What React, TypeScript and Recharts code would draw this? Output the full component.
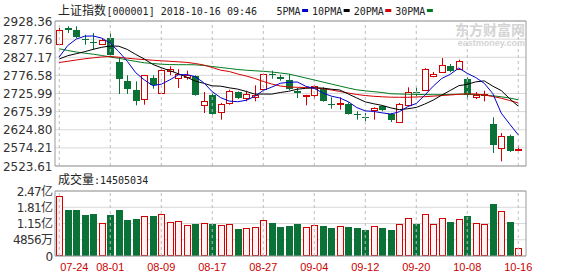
import React from 'react';
import { ComposedChart, Bar, Line, XAxis, YAxis, CartesianGrid, ReferenceLine } from 'recharts';

const dates = ['07-24','07-25','07-26','07-27','07-30','07-31','08-01','08-02','08-03','08-06','08-07','08-08','08-09','08-10','08-13','08-14','08-15','08-16','08-17','08-20','08-21','08-22','08-23','08-24','08-27','08-28','08-29','08-30','08-31','09-03','09-04','09-05','09-06','09-07','09-10','09-11','09-12','09-13','09-14','09-17','09-18','09-19','09-20','09-21','09-25','09-26','09-27','09-28','10-08','10-09','10-10','10-11','10-12','10-15','10-16'];

const opens = [2864.2,2908.8,2904.1,2878.1,2870,2865,2880.9,2813.9,2760,2735.8,2711.5,2769.2,2727.4,2789.6,2769.2,2772.9,2774,2693,2722.7,2673.5,2699.5,2730.2,2713.4,2715.4,2739.4,2780,2773,2764.5,2732.1,2719,2721,2739.4,2695.8,2697.5,2696.7,2667.5,2660,2679.1,2690.2,2668.8,2646.4,2694.7,2730.2,2734.9,2775,2785.2,2802,2795.2,2767.3,2717,2721,2640.9,2573.8,2606.4,2571.2];
const highs = [2908.8,2913.6,2913.6,2890.1,2894.9,2879,2894.9,2827,2776.8,2760,2778,2776.8,2795.2,2801.8,2794,2789.6,2776.8,2730.2,2727.4,2699.5,2736.6,2732,2733.8,2748.9,2781.5,2789.6,2778.5,2780.4,2741.3,2722.5,2750.6,2743.3,2715.4,2715.4,2701.4,2676.3,2671.6,2687.4,2693,2671.6,2699.5,2743.3,2743.3,2796.6,2786,2825.1,2808.3,2820.4,2771.2,2730.2,2733.8,2659.5,2615.7,2611,2581.4];
const lows = [2862.2,2894.9,2880.9,2862.2,2848.3,2862,2827,2724.6,2724.6,2693,2694.7,2739.4,2724.6,2776.8,2741.3,2764.5,2720,2671.5,2666.9,2652.9,2694.7,2710.6,2704.2,2704.2,2738.5,2767.3,2761.7,2735.8,2713.4,2693,2710.6,2703,2683.5,2680.8,2666.9,2652.9,2648.4,2652.9,2676.3,2646.4,2645,2693,2718.2,2734,2771.2,2783.2,2785.2,2792.4,2708.7,2710.6,2704.2,2560,2536.7,2562.7,2564.6];
const closes = [2904.1,2903.2,2882.9,2874.5,2868,2874.5,2832.6,2766.5,2739.4,2705.9,2776.8,2750.6,2790.7,2794.4,2780.4,2778.5,2722.7,2704.2,2668.8,2696.7,2732.1,2713.4,2724.6,2722.7,2780.4,2777.8,2767.3,2738.5,2726.5,2721,2747.8,2704.2,2693.9,2700.5,2668.8,2666,2658.5,2685.5,2680.8,2652.9,2697.5,2730.2,2729.3,2795.2,2780.4,2804.7,2788,2817.6,2721,2721,2724.6,2583,2606.4,2566.3,2572.1];

const ma5 = [2828,2860,2878,2886,2886.5,2880.6,2866.5,2843,2816,2784,2764,2748,2752,2764,2778,2779,2773,2756,2731,2714.2,2704.9,2703,2707.1,2717.9,2734.6,2743.8,2754.6,2757.3,2758.1,2746.2,2740.2,2727.6,2718.7,2713.5,2703,2686.7,2677.5,2675.9,2671.9,2668.7,2675,2689.4,2698.1,2721,2746.5,2768,2779.5,2797.2,2782.3,2770.5,2754.4,2726,2671.2,2640.3,2610.5];
const ma10 = [2822.3,2831.5,2837.1,2842.7,2849.4,2855,2858.6,2858,2849,2835,2822.4,2807.2,2798,2789.9,2781.2,2771.6,2760.6,2754.4,2747.3,2746.4,2741.9,2738.2,2731.6,2724.4,2724.4,2724.3,2728.8,2732.2,2738,2740.4,2742,2741.1,2738,2735.8,2724.6,2713.5,2702.6,2697.3,2692.7,2685.9,2680.9,2683.5,2687,2696.5,2707.6,2721.5,2734.5,2747.7,2751.7,2758.5,2761.2,2746.5,2734.2,2711.3,2690.5];
const ma20 = [2812.5,2815.9,2819.5,2822.9,2825.6,2827.9,2829.3,2827.3,2824.5,2822.3,2820.6,2818.9,2817.3,2815.9,2814.5,2812.8,2809.7,2805.5,2798.6,2791,2787.4,2780.4,2774.8,2767.9,2759.5,2752.5,2746.9,2744.1,2743.3,2742.7,2741.3,2739.4,2735.8,2731.6,2727.4,2723.2,2720.4,2718.2,2716.8,2715.7,2715.4,2715.4,2716.2,2717.1,2718.5,2720.4,2721.8,2723.8,2724.6,2724.6,2721.8,2717.6,2712.9,2706.4,2699.5];
const ma30 = [2850.8,2846,2841.8,2838.5,2835.7,2832.1,2827.9,2824.2,2819.8,2815.6,2811.7,2809.7,2807.8,2806.7,2806.4,2806.4,2806.1,2804.1,2801.4,2798.6,2795.8,2793,2791,2789.4,2788,2786,2783.2,2780.4,2774.8,2769.3,2763.7,2758.1,2752.5,2746.9,2741.3,2736.3,2733.5,2731,2728.8,2725.2,2724.6,2724,2723.5,2722.9,2722.6,2722.6,2723.2,2724,2724,2723.2,2721.8,2719.6,2716.8,2713.4,2708.4];

// volume in 亿
const volumes = [2.28,1.73,1.73,1.54,1.59,1.27,1.54,1.76,1.35,1.39,1.53,1.53,1.58,1.30,1.33,1.19,1.23,1.27,1.20,1.18,1.23,1.03,1.07,1.10,1.38,1.27,1.12,1.15,1.20,1.11,1.18,1.15,1.08,1.15,1.12,1.08,1.00,1.14,1.07,1.00,1.21,1.45,1.20,1.61,1.20,1.45,1.30,1.41,1.53,1.27,1.23,1.99,1.72,1.28,0.32];

const priceTicks = [2523.61, 2574.21, 2624.80, 2675.39, 2725.99, 2776.58, 2827.17, 2877.76, 2928.36];
const volTicks = [0, 0.6175, 1.235, 1.8525, 2.47];
const volTickLabels = ['0', '4856万', '1.15亿', '1.81亿', '2.47亿'];
const labelDates = ['07-24','08-01','08-09','08-17','08-27','09-04','09-12','09-20','10-08','10-16'];

const legendItems = [
  { name: '5PMA', color: '#0000cc' },
  { name: '10PMA', color: '#000000' },
  { name: '20PMA', color: '#d00000' },
  { name: '30PMA', color: '#007a1e' },
];

const RED = '#d20000';
const GREEN = '#0a7236';
const GRID = '#d8d8d8';
const BORDER = '#9a9a9a';
const DASH = '#bdbdbd';

const data = dates.map((date, i) => ({
  date,
  open: opens[i],
  high: highs[i],
  low: lows[i],
  close: closes[i],
  range: [lows[i], highs[i]],
  ma5: ma5[i],
  ma10: ma10[i],
  ma20: ma20[i],
  ma30: ma30[i],
  vol: volumes[i],
}));

const Candle = (props: any) => {
  const { x, y, width, height, payload } = props;
  if (!payload || x == null) return null;
  const top = Math.min(y, y + height);
  const h = Math.abs(height);
  const { open, close, high, low } = payload;
  const span = high - low || 1;
  const py = (v: number) => top + ((high - v) / span) * h;
  const cx = Math.floor(x + width / 2) + 0.5;
  const up = close >= open;
  const yHigh = py(high);
  const yLow = py(low);
  const bTop = py(Math.max(open, close));
  const bBot = py(Math.min(open, close));
  if (up) {
    const t = Math.round(bTop) + 0.5;
    let b = Math.round(bBot) + 0.5;
    if (b < t + 1) b = t + 1;
    return (
      <g>
        <line x1={cx} x2={cx} y1={yHigh} y2={t} stroke={RED} strokeWidth={1} />
        <line x1={cx} x2={cx} y1={b} y2={yLow} stroke={RED} strokeWidth={1} />
        <rect x={cx - 3} y={t} width={6} height={b - t} fill="#ffffff" stroke={RED} strokeWidth={1} />
      </g>
    );
  }
  const t = Math.round(bTop);
  const bh = Math.max(1, Math.round(bBot) - t);
  return (
    <g>
      <line x1={cx} x2={cx} y1={yHigh} y2={yLow} stroke={GREEN} strokeWidth={1} />
      <rect x={cx - 3.5} y={t} width={7} height={bh} fill={GREEN} />
    </g>
  );
};

const VolBar = (props: any) => {
  const { x, y, width, height, payload } = props;
  if (!payload || x == null) return null;
  const up = payload.close >= payload.open;
  const cx = Math.floor(x + width / 2) + 0.5;
  const yt = Math.round(Math.min(y, y + height));
  const yb = Math.round(Math.max(y, y + height));
  if (up) {
    return <rect x={cx - 3} y={yt + 0.5} width={6} height={Math.max(1, yb - yt - 1)} fill="#fff2f2" stroke={RED} strokeWidth={1} />;
  }
  return <rect x={cx - 3.5} y={yt} width={7} height={Math.max(1, yb - yt)} fill={GREEN} />;
};

const PriceTick = (props: any) => {
  const { x, y, payload } = props;
  return (
    <text x={x} y={y + 4.5} textAnchor="end" fontSize={12} fontFamily="DejaVu Sans" fill="#333">
      {Number(payload.value).toFixed(2)}
    </text>
  );
};

const VolTick = (props: any) => {
  const { x, y, index } = props;
  return (
    <text x={x} y={y + 4.5} textAnchor="end" fontSize={12} fontFamily="DejaVu Sans, Noto Sans CJK SC" fill="#333" letterSpacing={-0.6}>
      {volTickLabels[index]}
    </text>
  );
};

const DateTick = (props: any) => {
  const { x, y, payload, index } = props;
  const first = index === 0;
  return (
    <text x={first ? x + 1 : x} y={y + 14.5} textAnchor={first ? 'start' : 'middle'} fontSize={11} fontFamily="Liberation Sans" fill="#cc0000">
      {payload.value}
    </text>
  );
};

export default function App() {
  const monoW = 6.02;
  let lx = 276.5;
  const legendLayout = legendItems.map((it) => {
    const tx = lx;
    const dx = tx + it.name.length * monoW + 1.5;
    lx = dx + 10;
    return { ...it, tx, dx };
  });
  return (
    <div style={{ position: 'absolute', left: 0, top: 0, width: 578, height: 276, background: '#fff', overflow: 'hidden' }}>
      <div style={{ position: 'absolute', left: 0, top: 0 }}>
        <ComposedChart width={578} height={178} data={data} margin={{ top: 21, right: 0, bottom: 12, left: 0 }} barCategoryGap={0}>
          <CartesianGrid yAxisId="p" vertical={false} stroke={GRID} />
          <XAxis dataKey="date" hide padding={{ left: 0, right: 3.5 }} />
          <YAxis yAxisId="p" domain={[2523.61, 2928.36]} ticks={priceTicks} interval={0} width={55} allowDataOverflow
            axisLine={{ stroke: BORDER }} tickLine={false} tickSize={0} tickMargin={2.5} tick={<PriceTick />} />
          <YAxis yAxisId="r" orientation="right" width={52} axisLine={{ stroke: BORDER }} tick={false} tickLine={false} />
          {labelDates.map((d) => (
            <ReferenceLine key={d} yAxisId="p" x={d} stroke={DASH} strokeDasharray="3 3" />
          ))}
          <ReferenceLine yAxisId="p" y={priceTicks[priceTicks.length - 1]} stroke={BORDER} />
          <ReferenceLine yAxisId="p" y={priceTicks[0]} stroke={BORDER} />
          <Bar yAxisId="p" dataKey="range" shape={<Candle />} isAnimationActive={false} />
          <Line yAxisId="p" type="linear" dataKey="ma30" stroke="#007a1e" strokeWidth={1} dot={false} isAnimationActive={false} />
          <Line yAxisId="p" type="linear" dataKey="ma20" stroke="#d00000" strokeWidth={1} dot={false} isAnimationActive={false} />
          <Line yAxisId="p" type="linear" dataKey="ma10" stroke="#000000" strokeWidth={1} dot={false} isAnimationActive={false} />
          <Line yAxisId="p" type="linear" dataKey="ma5" stroke="#0000cc" strokeWidth={1} dot={false} isAnimationActive={false} />
        </ComposedChart>
      </div>
      <div style={{ position: 'absolute', left: 0, top: 180 }}>
        <ComposedChart width={578} height={96} data={data} margin={{ top: 11, right: 0, bottom: 0, left: 0 }} barCategoryGap={0}>
          <CartesianGrid yAxisId="v" vertical={false} stroke={GRID} />
          <XAxis dataKey="date" interval={5} padding={{ left: 0, right: 3.5 }} height={20}
            tickLine={false} tickSize={0} tickMargin={0} axisLine={{ stroke: BORDER }} tick={<DateTick />} />
          <YAxis yAxisId="v" domain={[0, 2.47]} ticks={volTicks} interval={0} width={55} allowDataOverflow
            axisLine={{ stroke: BORDER }} tickLine={false} tickSize={0} tickMargin={2.5} tick={<VolTick />} />
          <YAxis yAxisId="r" orientation="right" width={52} axisLine={{ stroke: BORDER }} tick={false} tickLine={false} />
          {labelDates.map((d) => (
            <ReferenceLine key={d} yAxisId="v" x={d} stroke={DASH} strokeDasharray="3 3" />
          ))}
          <ReferenceLine yAxisId="v" y={volTicks[volTicks.length - 1]} stroke={BORDER} />
          <Bar yAxisId="v" dataKey="vol" shape={<VolBar />} isAnimationActive={false} />
        </ComposedChart>
      </div>
      <svg width={578} height={276} style={{ position: 'absolute', left: 0, top: 0, pointerEvents: 'none' }}>
        <text x={58} y={14.5} fontSize={12} fontFamily="Noto Sans CJK SC" fill="#222">上证指数</text>
        <text x={106.5} y={14.5} fontSize={10} fontFamily="DejaVu Sans Mono" fill="#222">[000001] 2018-10-16 09:46</text>
        {legendLayout.map((it) => (
          <g key={it.name}>
            <text x={it.tx} y={14.5} fontSize={10} fontFamily="DejaVu Sans Mono" fill="#222">{it.name}</text>
            <rect x={it.dx} y={9} width={6} height={3} fill={it.color} />
          </g>
        ))}
        <text x={58} y={184} fontSize={12} fontFamily="Noto Sans CJK SC" fill="#222">成交量</text>
        <text x={94} y={184} fontSize={10} fontFamily="DejaVu Sans Mono" fill="#222">:14505034</text>
        <text x={525} y={34.5} textAnchor="end" fontSize={14} fontWeight="bold" fontFamily="Noto Sans CJK SC" fill="#d4d4d4">东方财富网</text>
        <text x={525} y={46} textAnchor="end" fontSize={9} fontWeight="bold" fontFamily="Liberation Sans" fill="#d4d4d4">eastmoney.com</text>
      </svg>
    </div>
  );
}
